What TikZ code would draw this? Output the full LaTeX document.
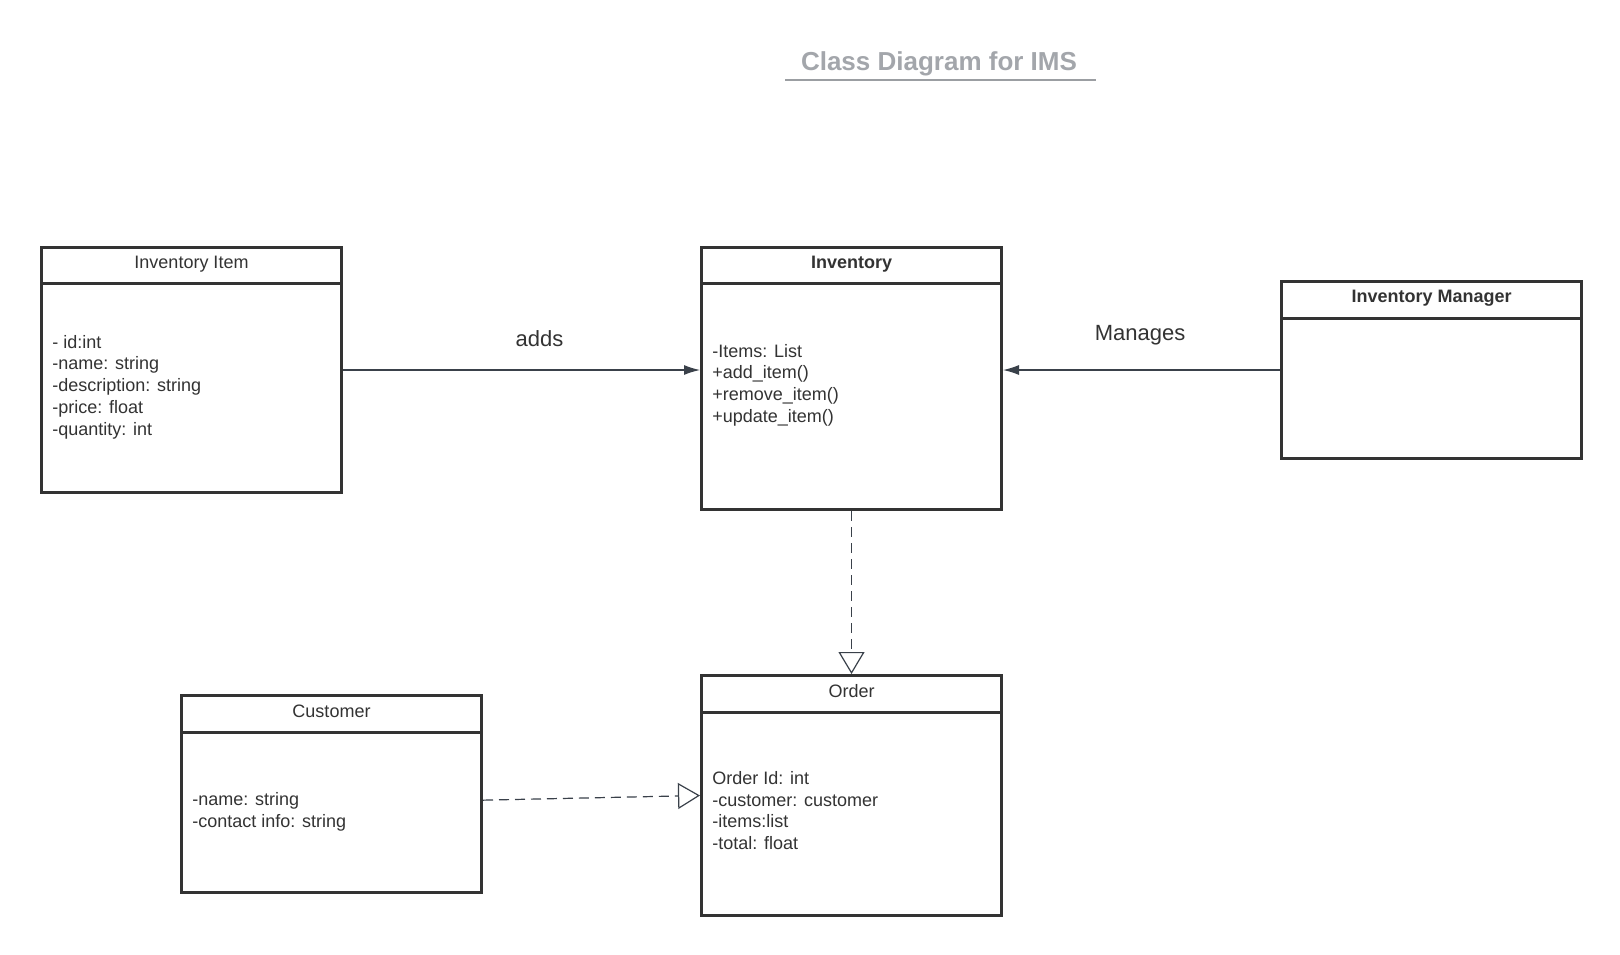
\documentclass[tikz,border=0pt]{standalone}
\usepackage{fontspec}
\setmainfont{Liberation Sans}
\usetikzlibrary{arrows.meta}
\definecolor{boxc}{HTML}{333333}
\definecolor{txtc}{HTML}{333333}
\definecolor{arrc}{HTML}{3A414A}
\definecolor{titc}{HTML}{A3A6AB}
\tikzset{
  classbox/.style={draw=boxc, line width=1.5pt, rectangle, inner sep=0pt, anchor=north west, minimum width=150pt},
  divider/.style={draw=boxc, line width=1.5pt},
  headtxt/.style={font=\fontsize{9}{10.85}\selectfont, text=txtc, inner sep=0pt},
  bodytxt/.style={font=\fontsize{9}{10.85}\selectfont, text=txtc, inner sep=0pt, align=left, anchor=west},
  assoc/.style={draw=arrc, line width=0.6pt, -{Latex[length=8pt,width=5pt]}},
  realize/.style={draw=arrc, line width=0.6pt, dash pattern=on 5pt off 3pt, -{Triangle[open,length=11pt,width=13pt,fill=white]}},
  lbl/.style={font=\fontsize{11}{13}\selectfont, text=txtc, inner sep=0pt}
}
\begin{document}
\begin{tikzpicture}[x=0.5pt,y=-0.5pt]
\useasboundingbox[fill=white] (0,0) rectangle (1620,954);

% title
\node[font=\fontsize{13}{15}\selectfont\bfseries, text=titc, inner sep=0pt] (title) at (939,64) {Class Diagram for IMS};
\draw[titc!95!black, line width=1pt] (785,80) coordinate (ulL) -- (1096,80) coordinate (ulR);

% Inventory Item
\node[classbox, minimum height=122.5pt] (item) at (40,246) {};
\draw[divider] ([yshift=-18.5pt]item.north west) -- ([yshift=-18.5pt]item.north east);
\node[headtxt] (itemh) at ([yshift=-9.25pt]item.north) {Inventory Item};
\node[bodytxt] (itemb) at (52,387) {- id:int\\-name: string\\-description: string\\-price: float\\-quantity: int};

% Inventory
\node[classbox, minimum height=131pt] (inv) at (700,246) {};
\draw[divider] ([yshift=-18.5pt]inv.north west) -- ([yshift=-18.5pt]inv.north east);
\node[headtxt, font=\fontsize{9}{10.85}\selectfont\bfseries] (invh) at ([yshift=-9.25pt]inv.north) {Inventory};
\node[bodytxt] (invb) at (712,385) {-Items: List\\+add\_item()\\+remove\_item()\\+update\_item()};

% Inventory Manager
\node[classbox, minimum height=88.5pt] (mgr) at (1280,280) {};
\draw[divider] ([yshift=-19pt]mgr.north west) -- ([yshift=-19pt]mgr.north east);
\node[headtxt, font=\fontsize{9}{10.85}\selectfont\bfseries] (mgrh) at ([yshift=-9.25pt]mgr.north) {Inventory Manager};

% Order
\node[classbox, minimum height=120pt] (order) at (700,674) {};
\draw[divider] ([yshift=-19pt]order.north west) -- ([yshift=-19pt]order.north east);
\node[headtxt] (orderh) at ([yshift=-8.5pt]order.north) {Order};
\node[bodytxt] (orderb) at (712,810.5) {Order Id: int\\-customer: customer\\-items:list\\-total: float};

% Customer
\node[classbox, minimum height=98.25pt] (cust) at (180,694) {};
\draw[divider] ([yshift=-19pt]cust.north west) -- ([yshift=-19pt]cust.north east);
\node[headtxt] (custh) at ([yshift=-8.5pt]cust.north) {Customer};
\node[bodytxt] (custb) at (192,812) {-name: string\\-contact info: string};

% connectors
\draw[assoc] (item.east) -- (item.east -| inv.west);
\node[lbl] (adds) at (539.5,339) {adds};
\draw[assoc] (mgr.west) -- (mgr.west -| inv.east);
\node[lbl] (manages) at (1140,335) {Manages};
\draw[realize] (inv.south) -- (order.north);
\draw[realize] ([yshift=-3.2pt]cust.east) -- (order.west);
\end{tikzpicture}
\end{document}
